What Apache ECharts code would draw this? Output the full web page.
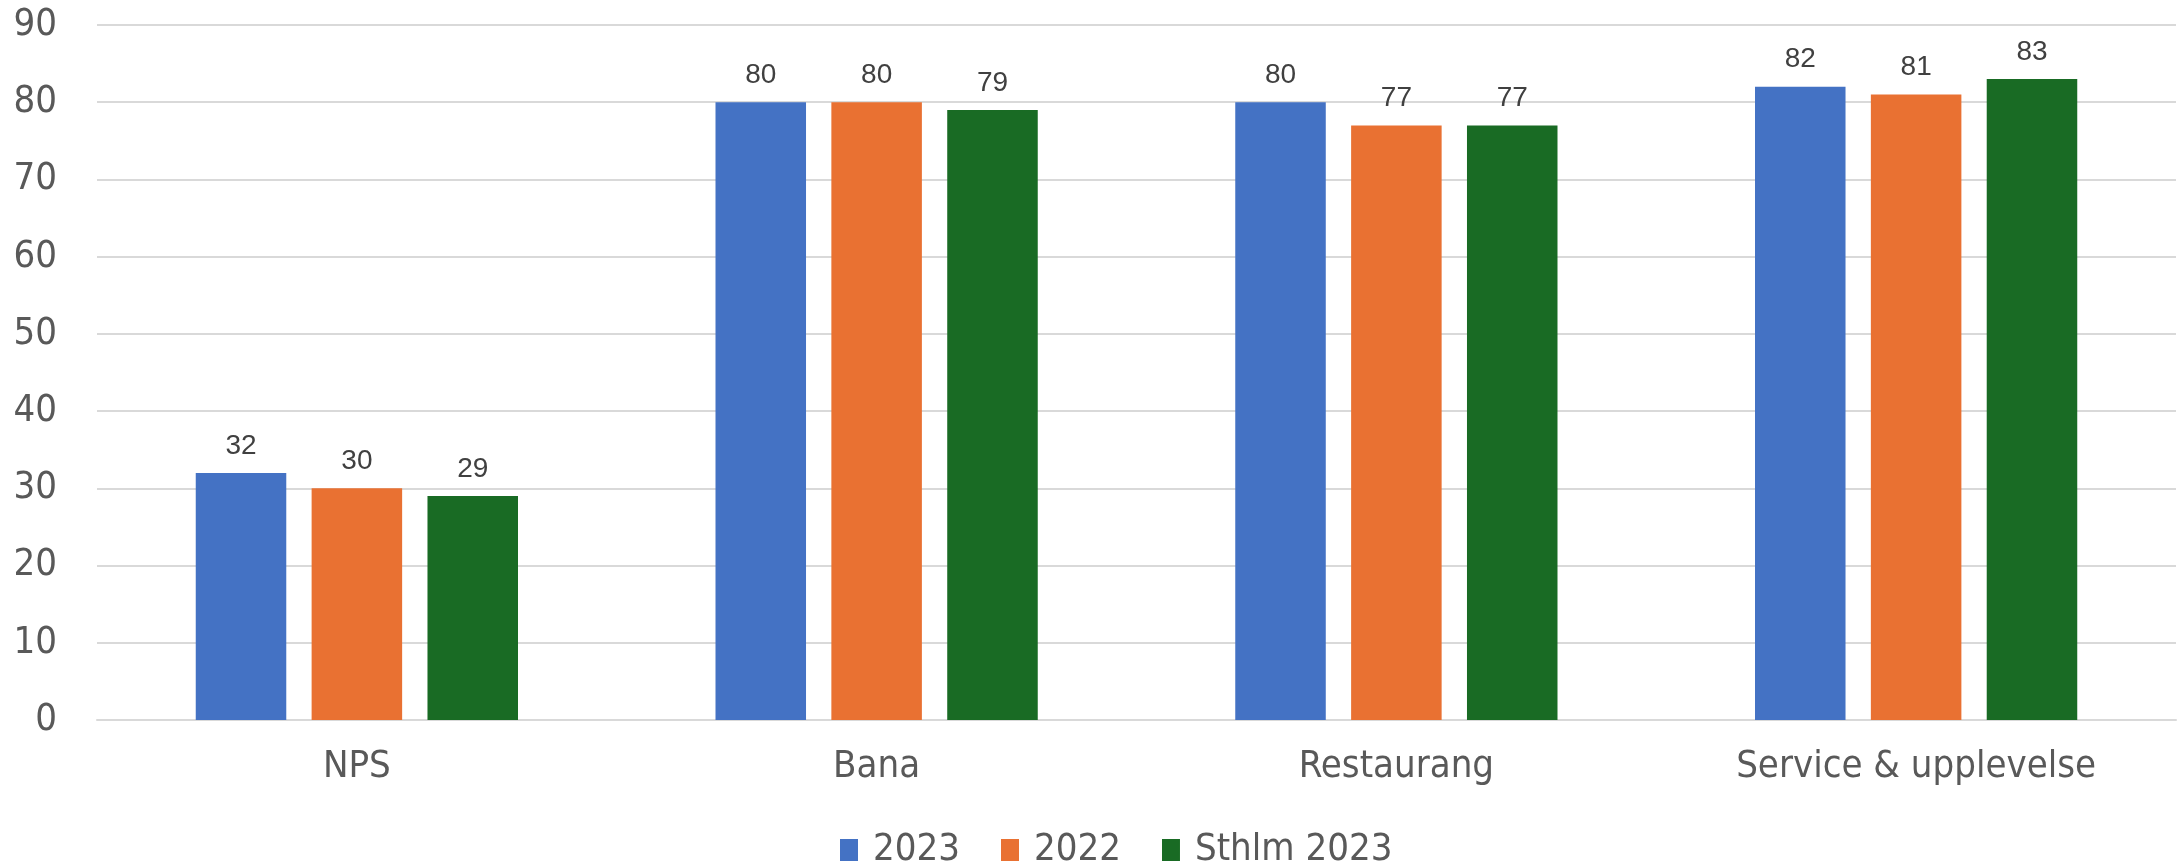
<!DOCTYPE html>
<html>
<head>
<meta charset="utf-8">
<script src="https://cdn.jsdelivr.net/npm/echarts@6/dist/echarts.min.js"></script>
<style>
html,body{margin:0;padding:0;background:#fff;}
#c{width:2178px;height:866px;}
</style>
</head>
<body>
<div id="c"></div>
<script>
const categories = ['NPS', 'Bana', 'Restaurang', 'Service & upplevelse'];
const seriesNames = ['2023', '2022', 'Sthlm 2023'];
const values2023 = [32, 80, 80, 82];
const values2022 = [30, 80, 77, 81];
const valuesSthlm = [29, 79, 77, 83];
const yTicks = [0, 10, 20, 30, 40, 50, 60, 70, 80, 90];

const colors = ['#4472C4', '#E97132', '#196B24'];
const narrow = "'Liberation Sans Narrow', 'DejaVu Sans Condensed', sans-serif";
const chart = echarts.init(document.getElementById('c'), null, {renderer: 'canvas'});
const dataSets = [values2023, values2022, valuesSthlm];
chart.setOption({
  animation: false,
  color: colors,
  grid: {left: 97, right: 2, top: 25, bottom: 146, containLabel: false},
  legend: {
    data: seriesNames,
    left: 835,
    top: 826,
    itemWidth: 18,
    itemHeight: 22,
    itemGap: 41,
    icon: 'rect',
    textStyle: {fontFamily: narrow, fontSize: 38, color: '#595959', padding: [0, 0, 0, 10]}
  },
  xAxis: {
    type: 'category',
    data: categories,
    axisLine: {show: true, lineStyle: {color: '#D9D9D9', width: 2}},
    axisTick: {show: false},
    axisLabel: {fontFamily: narrow, fontSize: 38, color: '#595959', margin: 28}
  },
  yAxis: {
    type: 'value',
    min: yTicks[0],
    max: yTicks[yTicks.length - 1],
    interval: 10,
    axisLine: {show: false},
    axisTick: {show: false},
    splitLine: {lineStyle: {color: '#D9D9D9', width: 2}},
    axisLabel: {fontFamily: narrow, fontSize: 38, color: '#595959', margin: 40}
  },
  series: seriesNames.map((n, i) => ({
    name: n,
    type: 'bar',
    data: dataSets[i],
    barGap: '28%',
    barCategoryGap: '38%',
    label: {
      show: true,
      position: 'top',
      distance: 13,
      fontFamily: "'Liberation Sans', Arial, sans-serif",
      fontSize: 28,
      color: '#404040'
    }
  }))
});
</script>
</body>
</html>
